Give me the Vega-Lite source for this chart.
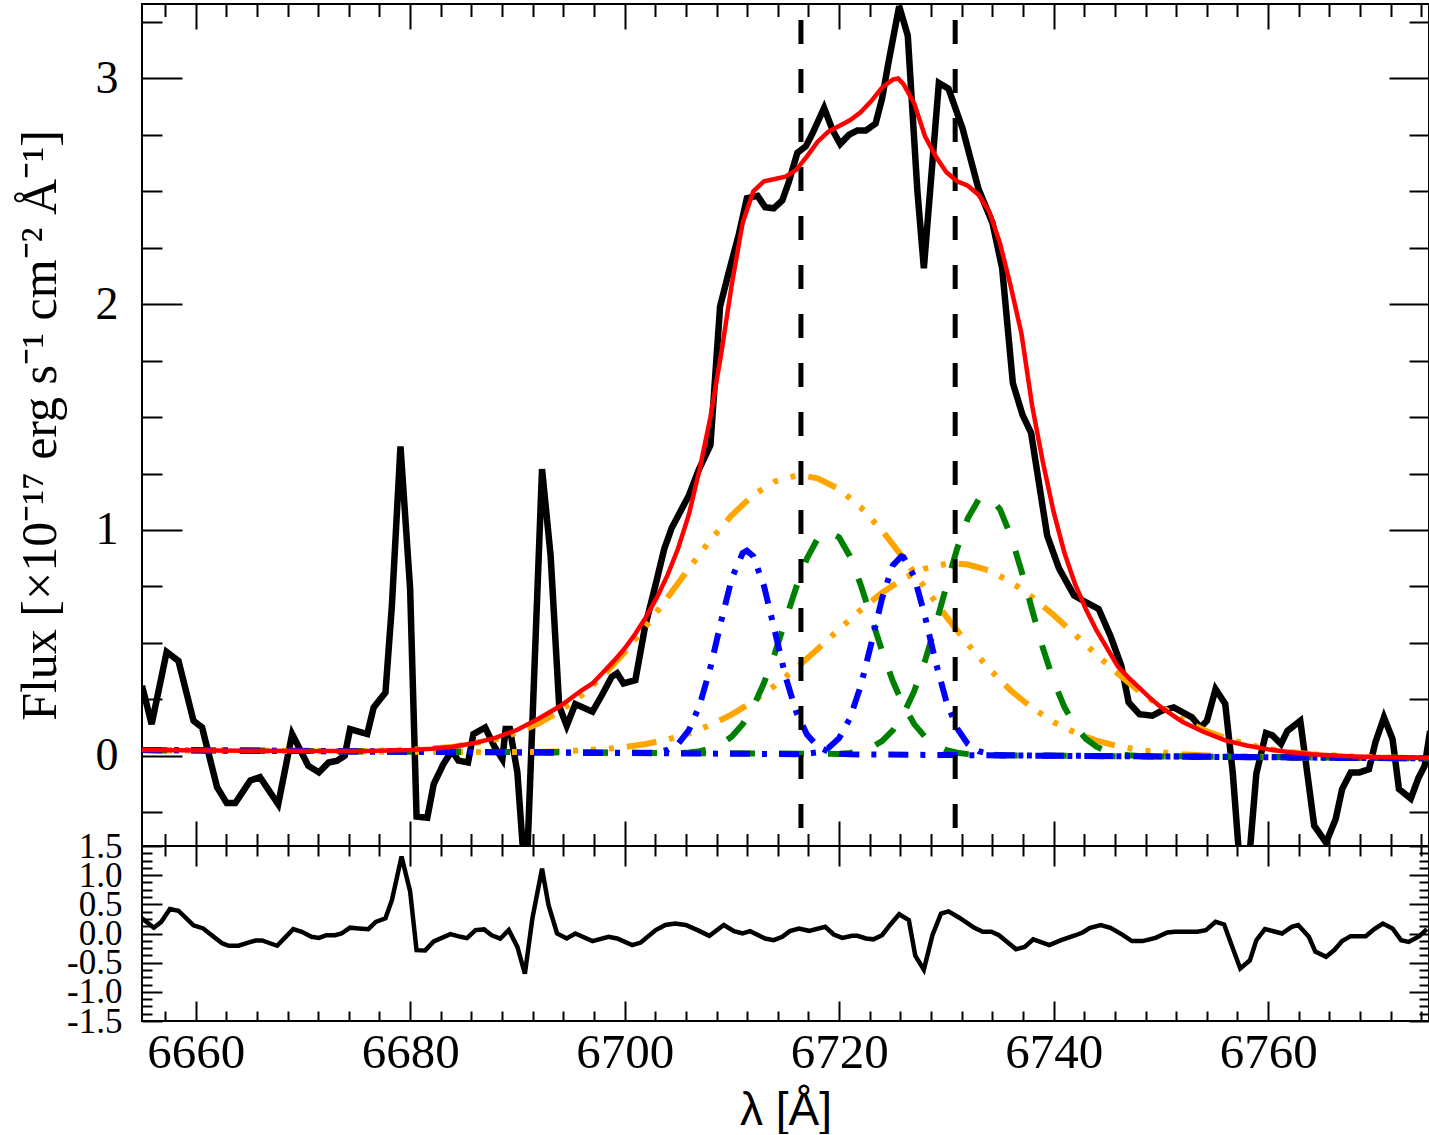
{
  "$schema": "https://vega.github.io/schema/vega-lite/v6.json",
  "background": "white",
  "padding": {"left": 14, "top": 2, "right": 2, "bottom": 0},
  "bounds": "flush",
  "config": {
    "view": {"stroke": "black", "strokeWidth": 2},
    "axis": {"labelColor": "black", "titleColor": "black", "labelOverlap": false, "labelFlush": false, "labelBound": false, "grid": false, "domain": false}
  },
  "datasets": {
    "spec": [
      {"w": 6655.0, "f": 0.31}, {"w": 6655.9, "f": 0.14}, {"w": 6657.3, "f": 0.46}, {"w": 6658.4, "f": 0.42},
      {"w": 6659.8, "f": 0.155}, {"w": 6660.6, "f": 0.125}, {"w": 6662.0, "f": -0.14}, {"w": 6662.9, "f": -0.21},
      {"w": 6663.7, "f": -0.21}, {"w": 6665.1, "f": -0.11}, {"w": 6666.0, "f": -0.095}, {"w": 6667.7, "f": -0.215},
      {"w": 6669.0, "f": 0.096}, {"w": 6670.5, "f": -0.044}, {"w": 6671.5, "f": -0.074}, {"w": 6672.4, "f": -0.03},
      {"w": 6673.2, "f": -0.022}, {"w": 6673.9, "f": 0.0}, {"w": 6674.4, "f": 0.118}, {"w": 6676.0, "f": 0.096},
      {"w": 6676.6, "f": 0.214}, {"w": 6677.7, "f": 0.28}, {"w": 6678.3, "f": 0.665}, {"w": 6679.1, "f": 1.37},
      {"w": 6680.0, "f": 0.74}, {"w": 6680.6, "f": -0.27}, {"w": 6681.6, "f": -0.275}, {"w": 6682.2, "f": -0.126},
      {"w": 6683.1, "f": -0.037}, {"w": 6683.9, "f": 0.022}, {"w": 6684.5, "f": -0.022}, {"w": 6685.4, "f": -0.03},
      {"w": 6685.9, "f": 0.096}, {"w": 6687.0, "f": 0.125}, {"w": 6687.9, "f": 0.037}, {"w": 6688.6, "f": -0.015},
      {"w": 6688.9, "f": 0.118}, {"w": 6689.3, "f": 0.118}, {"w": 6690.0, "f": -0.074}, {"w": 6690.8, "f": -0.6},
      {"w": 6692.3, "f": 1.27}, {"w": 6693.1, "f": 0.886}, {"w": 6693.9, "f": 0.22}, {"w": 6694.6, "f": 0.133},
      {"w": 6695.4, "f": 0.229}, {"w": 6697.0, "f": 0.195}, {"w": 6697.9, "f": 0.27}, {"w": 6698.8, "f": 0.35},
      {"w": 6699.3, "f": 0.365}, {"w": 6699.9, "f": 0.32}, {"w": 6701.0, "f": 0.335}, {"w": 6701.9, "f": 0.57},
      {"w": 6702.9, "f": 0.76}, {"w": 6703.7, "f": 0.917}, {"w": 6704.4, "f": 1.01}, {"w": 6706.0, "f": 1.154},
      {"w": 6706.9, "f": 1.265}, {"w": 6708.0, "f": 1.376}, {"w": 6708.9, "f": 1.99}, {"w": 6709.7, "f": 2.14},
      {"w": 6710.65, "f": 2.31}, {"w": 6711.4, "f": 2.47}, {"w": 6712.4, "f": 2.48}, {"w": 6713.1, "f": 2.43},
      {"w": 6713.9, "f": 2.425}, {"w": 6714.7, "f": 2.46}, {"w": 6715.3, "f": 2.54}, {"w": 6716.1, "f": 2.67},
      {"w": 6716.9, "f": 2.7}, {"w": 6717.5, "f": 2.755}, {"w": 6718.6, "f": 2.87}, {"w": 6719.4, "f": 2.77},
      {"w": 6720.1, "f": 2.71}, {"w": 6720.9, "f": 2.75}, {"w": 6721.7, "f": 2.77}, {"w": 6722.5, "f": 2.77},
      {"w": 6723.4, "f": 2.8}, {"w": 6724.0, "f": 2.91}, {"w": 6724.6, "f": 3.07}, {"w": 6725.6, "f": 3.32},
      {"w": 6726.4, "f": 3.19}, {"w": 6727.3, "f": 2.5}, {"w": 6727.9, "f": 2.16}, {"w": 6729.3, "f": 2.98},
      {"w": 6730.2, "f": 2.955}, {"w": 6731.5, "f": 2.78}, {"w": 6733.0, "f": 2.51}, {"w": 6734.3, "f": 2.36},
      {"w": 6735.2, "f": 2.16}, {"w": 6736.2, "f": 1.65}, {"w": 6737.1, "f": 1.51}, {"w": 6737.9, "f": 1.43},
      {"w": 6739.4, "f": 0.975}, {"w": 6740.5, "f": 0.83}, {"w": 6741.9, "f": 0.71}, {"w": 6743.0, "f": 0.68},
      {"w": 6744.2, "f": 0.65}, {"w": 6745.3, "f": 0.53}, {"w": 6746.3, "f": 0.4}, {"w": 6747.0, "f": 0.236},
      {"w": 6748.0, "f": 0.184}, {"w": 6749.2, "f": 0.177}, {"w": 6750.1, "f": 0.2}, {"w": 6751.2, "f": 0.214},
      {"w": 6752.9, "f": 0.17}, {"w": 6753.7, "f": 0.125}, {"w": 6754.3, "f": 0.155}, {"w": 6755.1, "f": 0.295},
      {"w": 6756.0, "f": 0.23}, {"w": 6756.7, "f": -0.074}, {"w": 6757.5, "f": -0.57}, {"w": 6758.3, "f": -0.42},
      {"w": 6758.9, "f": -0.08}, {"w": 6759.8, "f": 0.1}, {"w": 6760.4, "f": 0.09}, {"w": 6761.2, "f": 0.052},
      {"w": 6761.8, "f": 0.11}, {"w": 6763.0, "f": 0.155}, {"w": 6764.3, "f": -0.31}, {"w": 6765.4, "f": -0.385},
      {"w": 6766.3, "f": -0.28}, {"w": 6766.9, "f": -0.148}, {"w": 6767.7, "f": -0.074}, {"w": 6768.5, "f": -0.074},
      {"w": 6769.4, "f": -0.06}, {"w": 6770.0, "f": 0.059}, {"w": 6770.8, "f": 0.17}, {"w": 6771.6, "f": 0.074},
      {"w": 6772.2, "f": -0.148}, {"w": 6773.3, "f": -0.19}, {"w": 6774.0, "f": -0.1}, {"w": 6774.6, "f": -0.044},
      {"w": 6775.1, "f": 0.11}
    ],
    "fit": [
      {"w": 6655, "f": 0.025}, {"w": 6665, "f": 0.022}, {"w": 6670, "f": 0.021}, {"w": 6676, "f": 0.021},
      {"w": 6680, "f": 0.025}, {"w": 6682, "f": 0.031}, {"w": 6684, "f": 0.04}, {"w": 6686, "f": 0.056},
      {"w": 6688, "f": 0.08}, {"w": 6690, "f": 0.115}, {"w": 6692, "f": 0.165}, {"w": 6694, "f": 0.22},
      {"w": 6696, "f": 0.29}, {"w": 6697, "f": 0.32}, {"w": 6698, "f": 0.37}, {"w": 6699, "f": 0.42},
      {"w": 6700, "f": 0.475}, {"w": 6701, "f": 0.54}, {"w": 6702, "f": 0.615}, {"w": 6703, "f": 0.7},
      {"w": 6704, "f": 0.8}, {"w": 6705, "f": 0.92}, {"w": 6706, "f": 1.07}, {"w": 6707, "f": 1.27},
      {"w": 6708, "f": 1.5}, {"w": 6709, "f": 1.78}, {"w": 6710, "f": 2.09}, {"w": 6711, "f": 2.36},
      {"w": 6712, "f": 2.5}, {"w": 6713, "f": 2.545}, {"w": 6714, "f": 2.555}, {"w": 6715, "f": 2.565},
      {"w": 6716, "f": 2.595}, {"w": 6717, "f": 2.655}, {"w": 6718, "f": 2.72}, {"w": 6719, "f": 2.765},
      {"w": 6720, "f": 2.79}, {"w": 6721, "f": 2.815}, {"w": 6722, "f": 2.85}, {"w": 6723, "f": 2.9},
      {"w": 6724, "f": 2.96}, {"w": 6725, "f": 2.995}, {"w": 6725.5, "f": 3.0}, {"w": 6726, "f": 2.975},
      {"w": 6727, "f": 2.89}, {"w": 6728, "f": 2.745}, {"w": 6729, "f": 2.655}, {"w": 6730, "f": 2.585},
      {"w": 6731, "f": 2.545}, {"w": 6732, "f": 2.525}, {"w": 6733, "f": 2.485}, {"w": 6734, "f": 2.41},
      {"w": 6735, "f": 2.27}, {"w": 6736, "f": 2.08}, {"w": 6737, "f": 1.87}, {"w": 6738, "f": 1.55},
      {"w": 6739, "f": 1.3}, {"w": 6740, "f": 1.08}, {"w": 6741, "f": 0.9}, {"w": 6742, "f": 0.76},
      {"w": 6743, "f": 0.65}, {"w": 6744, "f": 0.555}, {"w": 6745, "f": 0.475}, {"w": 6746, "f": 0.395},
      {"w": 6747, "f": 0.345}, {"w": 6748, "f": 0.3}, {"w": 6749, "f": 0.255}, {"w": 6750, "f": 0.215},
      {"w": 6752, "f": 0.15}, {"w": 6754, "f": 0.105}, {"w": 6756, "f": 0.068}, {"w": 6758, "f": 0.045},
      {"w": 6760, "f": 0.028}, {"w": 6762, "f": 0.015}, {"w": 6764, "f": 0.006}, {"w": 6768, "f": -0.003},
      {"w": 6772, "f": -0.008}, {"w": 6775, "f": -0.01}
    ],
    "comp": [
      {"c": "O1", "w": 6655, "f": 0.025}, {"c": "O1", "w": 6670, "f": 0.021}, {"c": "O1", "w": 6676, "f": 0.021},
      {"c": "O1", "w": 6680, "f": 0.026}, {"c": "O1", "w": 6684, "f": 0.039}, {"c": "O1", "w": 6688, "f": 0.073},
      {"c": "O1", "w": 6690, "f": 0.103}, {"c": "O1", "w": 6692, "f": 0.144}, {"c": "O1", "w": 6694, "f": 0.198},
      {"c": "O1", "w": 6696, "f": 0.268}, {"c": "O1", "w": 6698, "f": 0.355}, {"c": "O1", "w": 6700, "f": 0.458},
      {"c": "O1", "w": 6702, "f": 0.575}, {"c": "O1", "w": 6704, "f": 0.7}, {"c": "O1", "w": 6706, "f": 0.83},
      {"c": "O1", "w": 6708, "f": 0.955}, {"c": "O1", "w": 6710, "f": 1.066}, {"c": "O1", "w": 6712, "f": 1.155},
      {"c": "O1", "w": 6714, "f": 1.215}, {"c": "O1", "w": 6716, "f": 1.241}, {"c": "O1", "w": 6716.4, "f": 1.242},
      {"c": "O1", "w": 6718, "f": 1.229}, {"c": "O1", "w": 6720, "f": 1.181}, {"c": "O1", "w": 6722, "f": 1.101},
      {"c": "O1", "w": 6724, "f": 0.997}, {"c": "O1", "w": 6726, "f": 0.875}, {"c": "O1", "w": 6728, "f": 0.745},
      {"c": "O1", "w": 6730, "f": 0.616}, {"c": "O1", "w": 6732, "f": 0.494}, {"c": "O1", "w": 6734, "f": 0.384},
      {"c": "O1", "w": 6736, "f": 0.289}, {"c": "O1", "w": 6738, "f": 0.211}, {"c": "O1", "w": 6740, "f": 0.149},
      {"c": "O1", "w": 6742, "f": 0.102}, {"c": "O1", "w": 6744, "f": 0.067}, {"c": "O1", "w": 6746, "f": 0.042},
      {"c": "O1", "w": 6748, "f": 0.025}, {"c": "O1", "w": 6752, "f": 0.006}, {"c": "O1", "w": 6756, "f": -0.003},
      {"c": "O1", "w": 6762, "f": -0.007}, {"c": "O1", "w": 6775, "f": -0.012},
      {"c": "O2", "w": 6655, "f": 0.025}, {"c": "O2", "w": 6684, "f": 0.016}, {"c": "O2", "w": 6690, "f": 0.016},
      {"c": "O2", "w": 6694, "f": 0.019}, {"c": "O2", "w": 6698, "f": 0.029}, {"c": "O2", "w": 6700, "f": 0.038},
      {"c": "O2", "w": 6702, "f": 0.052}, {"c": "O2", "w": 6704, "f": 0.072}, {"c": "O2", "w": 6706, "f": 0.099},
      {"c": "O2", "w": 6708, "f": 0.136}, {"c": "O2", "w": 6710, "f": 0.183}, {"c": "O2", "w": 6712, "f": 0.241},
      {"c": "O2", "w": 6714, "f": 0.31}, {"c": "O2", "w": 6716, "f": 0.388}, {"c": "O2", "w": 6718, "f": 0.473},
      {"c": "O2", "w": 6720, "f": 0.56}, {"c": "O2", "w": 6722, "f": 0.645}, {"c": "O2", "w": 6724, "f": 0.722},
      {"c": "O2", "w": 6726, "f": 0.785}, {"c": "O2", "w": 6728, "f": 0.829}, {"c": "O2", "w": 6730, "f": 0.85},
      {"c": "O2", "w": 6730.8, "f": 0.852}, {"c": "O2", "w": 6732, "f": 0.847}, {"c": "O2", "w": 6734, "f": 0.82},
      {"c": "O2", "w": 6736, "f": 0.77}, {"c": "O2", "w": 6738, "f": 0.703}, {"c": "O2", "w": 6740, "f": 0.623},
      {"c": "O2", "w": 6742, "f": 0.536}, {"c": "O2", "w": 6744, "f": 0.448}, {"c": "O2", "w": 6746, "f": 0.363},
      {"c": "O2", "w": 6748, "f": 0.285}, {"c": "O2", "w": 6750, "f": 0.217}, {"c": "O2", "w": 6752, "f": 0.16},
      {"c": "O2", "w": 6754, "f": 0.114}, {"c": "O2", "w": 6756, "f": 0.078}, {"c": "O2", "w": 6758, "f": 0.051},
      {"c": "O2", "w": 6760, "f": 0.031}, {"c": "O2", "w": 6762, "f": 0.017}, {"c": "O2", "w": 6764, "f": 0.007},
      {"c": "O2", "w": 6768, "f": -0.004}, {"c": "O2", "w": 6772, "f": -0.009}, {"c": "O2", "w": 6775, "f": -0.011},
      {"c": "G1", "w": 6655, "f": 0.025}, {"c": "G1", "w": 6705, "f": 0.012}, {"c": "G1", "w": 6706, "f": 0.014},
      {"c": "G1", "w": 6707, "f": 0.02}, {"c": "G1", "w": 6708, "f": 0.031}, {"c": "G1", "w": 6709, "f": 0.051},
      {"c": "G1", "w": 6710, "f": 0.085}, {"c": "G1", "w": 6711, "f": 0.139}, {"c": "G1", "w": 6712, "f": 0.217},
      {"c": "G1", "w": 6713, "f": 0.323}, {"c": "G1", "w": 6714, "f": 0.453}, {"c": "G1", "w": 6715, "f": 0.6},
      {"c": "G1", "w": 6716, "f": 0.746}, {"c": "G1", "w": 6717, "f": 0.874}, {"c": "G1", "w": 6718, "f": 0.962},
      {"c": "G1", "w": 6719, "f": 0.995}, {"c": "G1", "w": 6720, "f": 0.967}, {"c": "G1", "w": 6721, "f": 0.884},
      {"c": "G1", "w": 6722, "f": 0.759}, {"c": "G1", "w": 6723, "f": 0.612}, {"c": "G1", "w": 6724, "f": 0.464},
      {"c": "G1", "w": 6725, "f": 0.331}, {"c": "G1", "w": 6726, "f": 0.222}, {"c": "G1", "w": 6727, "f": 0.14},
      {"c": "G1", "w": 6728, "f": 0.084}, {"c": "G1", "w": 6729, "f": 0.047}, {"c": "G1", "w": 6730, "f": 0.025},
      {"c": "G1", "w": 6731, "f": 0.013}, {"c": "G1", "w": 6732, "f": 0.007}, {"c": "G1", "w": 6733, "f": 0.003},
      {"c": "G1", "w": 6734, "f": 0.002}, {"c": "G1", "w": 6775, "f": -0.012},
      {"c": "G2", "w": 6655, "f": 0.025}, {"c": "G2", "w": 6720, "f": 0.008}, {"c": "G2", "w": 6721, "f": 0.012},
      {"c": "G2", "w": 6722, "f": 0.02}, {"c": "G2", "w": 6723, "f": 0.036}, {"c": "G2", "w": 6724, "f": 0.065},
      {"c": "G2", "w": 6725, "f": 0.112}, {"c": "G2", "w": 6726, "f": 0.184}, {"c": "G2", "w": 6727, "f": 0.286},
      {"c": "G2", "w": 6728, "f": 0.419}, {"c": "G2", "w": 6729, "f": 0.578}, {"c": "G2", "w": 6730, "f": 0.752},
      {"c": "G2", "w": 6731, "f": 0.917}, {"c": "G2", "w": 6732, "f": 1.052}, {"c": "G2", "w": 6733, "f": 1.134},
      {"c": "G2", "w": 6733.7, "f": 1.151}, {"c": "G2", "w": 6734, "f": 1.148}, {"c": "G2", "w": 6735, "f": 1.092},
      {"c": "G2", "w": 6736, "f": 0.975}, {"c": "G2", "w": 6737, "f": 0.819}, {"c": "G2", "w": 6738, "f": 0.645},
      {"c": "G2", "w": 6739, "f": 0.477}, {"c": "G2", "w": 6740, "f": 0.331}, {"c": "G2", "w": 6741, "f": 0.216},
      {"c": "G2", "w": 6742, "f": 0.132}, {"c": "G2", "w": 6743, "f": 0.075}, {"c": "G2", "w": 6744, "f": 0.04},
      {"c": "G2", "w": 6745, "f": 0.019}, {"c": "G2", "w": 6746, "f": 0.007}, {"c": "G2", "w": 6747, "f": 0.002},
      {"c": "G2", "w": 6748, "f": -0.001}, {"c": "G2", "w": 6775, "f": -0.012},
      {"c": "B1", "w": 6655, "f": 0.025}, {"c": "B1", "w": 6702, "f": 0.012}, {"c": "B1", "w": 6703, "f": 0.015},
      {"c": "B1", "w": 6704, "f": 0.026}, {"c": "B1", "w": 6705, "f": 0.053}, {"c": "B1", "w": 6706, "f": 0.114},
      {"c": "B1", "w": 6707, "f": 0.224}, {"c": "B1", "w": 6708, "f": 0.391}, {"c": "B1", "w": 6709, "f": 0.596},
      {"c": "B1", "w": 6710, "f": 0.787}, {"c": "B1", "w": 6711, "f": 0.897}, {"c": "B1", "w": 6711.4, "f": 0.908},
      {"c": "B1", "w": 6712, "f": 0.884}, {"c": "B1", "w": 6713, "f": 0.751}, {"c": "B1", "w": 6714, "f": 0.553},
      {"c": "B1", "w": 6715, "f": 0.351}, {"c": "B1", "w": 6716, "f": 0.194}, {"c": "B1", "w": 6717, "f": 0.094},
      {"c": "B1", "w": 6718, "f": 0.042}, {"c": "B1", "w": 6719, "f": 0.018}, {"c": "B1", "w": 6720, "f": 0.009},
      {"c": "B1", "w": 6721, "f": 0.006}, {"c": "B1", "w": 6775, "f": -0.012},
      {"c": "B2", "w": 6655, "f": 0.025}, {"c": "B2", "w": 6716, "f": 0.007}, {"c": "B2", "w": 6717, "f": 0.009},
      {"c": "B2", "w": 6718, "f": 0.015}, {"c": "B2", "w": 6719, "f": 0.034}, {"c": "B2", "w": 6720, "f": 0.078},
      {"c": "B2", "w": 6721, "f": 0.165}, {"c": "B2", "w": 6722, "f": 0.307}, {"c": "B2", "w": 6723, "f": 0.497},
      {"c": "B2", "w": 6724, "f": 0.696}, {"c": "B2", "w": 6725, "f": 0.843}, {"c": "B2", "w": 6725.8, "f": 0.883},
      {"c": "B2", "w": 6726, "f": 0.88}, {"c": "B2", "w": 6727, "f": 0.794}, {"c": "B2", "w": 6728, "f": 0.618},
      {"c": "B2", "w": 6729, "f": 0.415}, {"c": "B2", "w": 6730, "f": 0.24}, {"c": "B2", "w": 6731, "f": 0.121},
      {"c": "B2", "w": 6732, "f": 0.052}, {"c": "B2", "w": 6733, "f": 0.02}, {"c": "B2", "w": 6734, "f": 0.007},
      {"c": "B2", "w": 6735, "f": 0.002}, {"c": "B2", "w": 6775, "f": -0.012}
    ],
    "lines": [{"w": 6716.44}, {"w": 6730.82}],
    "resid": [
      {"w": 6655.0, "r": 0.26}, {"w": 6656.1, "r": 0.1}, {"w": 6656.8, "r": 0.2}, {"w": 6657.6, "r": 0.42},
      {"w": 6658.4, "r": 0.39}, {"w": 6659.8, "r": 0.14}, {"w": 6660.7, "r": 0.087}, {"w": 6661.5, "r": -0.03},
      {"w": 6662.5, "r": -0.17}, {"w": 6663.1, "r": -0.21}, {"w": 6664.0, "r": -0.21}, {"w": 6664.9, "r": -0.155},
      {"w": 6665.6, "r": -0.12}, {"w": 6666.2, "r": -0.12}, {"w": 6667.6, "r": -0.21}, {"w": 6669.1, "r": 0.075},
      {"w": 6669.9, "r": 0.03}, {"w": 6670.8, "r": -0.057}, {"w": 6671.5, "r": -0.075}, {"w": 6672.2, "r": -0.03},
      {"w": 6673.0, "r": -0.03}, {"w": 6673.6, "r": 0.0}, {"w": 6674.4, "r": 0.1}, {"w": 6675.2, "r": 0.087},
      {"w": 6676.1, "r": 0.075}, {"w": 6676.8, "r": 0.2}, {"w": 6677.7, "r": 0.26}, {"w": 6678.3, "r": 0.57},
      {"w": 6679.2, "r": 1.32}, {"w": 6680.0, "r": 0.72}, {"w": 6680.6, "r": -0.285}, {"w": 6681.4, "r": -0.29},
      {"w": 6682.2, "r": -0.135}, {"w": 6683.75, "r": -0.01}, {"w": 6684.7, "r": -0.057}, {"w": 6685.3, "r": -0.08},
      {"w": 6686.1, "r": 0.058}, {"w": 6686.9, "r": 0.07}, {"w": 6687.6, "r": -0.03}, {"w": 6688.4, "r": -0.086},
      {"w": 6689.2, "r": 0.058}, {"w": 6690.0, "r": -0.23}, {"w": 6690.7, "r": -0.69}, {"w": 6691.4, "r": 0.26},
      {"w": 6692.3, "r": 1.11}, {"w": 6692.9, "r": 0.49}, {"w": 6693.7, "r": 0.0}, {"w": 6694.6, "r": -0.086},
      {"w": 6695.4, "r": 0.0}, {"w": 6697.0, "r": -0.13}, {"w": 6698.5, "r": -0.057}, {"w": 6699.3, "r": -0.086},
      {"w": 6700.7, "r": -0.2}, {"w": 6701.5, "r": -0.155}, {"w": 6702.9, "r": 0.058}, {"w": 6703.8, "r": 0.145},
      {"w": 6704.7, "r": 0.17}, {"w": 6705.7, "r": 0.145}, {"w": 6706.8, "r": 0.058}, {"w": 6707.9, "r": -0.04},
      {"w": 6709.25, "r": 0.145}, {"w": 6710.2, "r": 0.04}, {"w": 6711.0, "r": 0.0}, {"w": 6711.7, "r": 0.04},
      {"w": 6713.1, "r": -0.086}, {"w": 6713.9, "r": -0.115}, {"w": 6714.7, "r": -0.057}, {"w": 6715.4, "r": 0.04},
      {"w": 6716.25, "r": 0.086}, {"w": 6717.2, "r": 0.046}, {"w": 6718.7, "r": 0.115}, {"w": 6719.5, "r": -0.017},
      {"w": 6720.3, "r": -0.075}, {"w": 6721.2, "r": -0.04}, {"w": 6721.7, "r": -0.04}, {"w": 6722.5, "r": -0.086},
      {"w": 6723.2, "r": -0.1}, {"w": 6724.0, "r": -0.03}, {"w": 6724.8, "r": 0.16}, {"w": 6725.6, "r": 0.33},
      {"w": 6726.5, "r": 0.23}, {"w": 6727.1, "r": -0.38}, {"w": 6727.9, "r": -0.62}, {"w": 6728.7, "r": -0.03},
      {"w": 6729.5, "r": 0.34}, {"w": 6730.2, "r": 0.38}, {"w": 6731.2, "r": 0.27}, {"w": 6732.6, "r": 0.096},
      {"w": 6733.4, "r": 0.03}, {"w": 6734.2, "r": 0.03}, {"w": 6734.9, "r": -0.03}, {"w": 6736.5, "r": -0.27},
      {"w": 6737.3, "r": -0.23}, {"w": 6738.1, "r": -0.1}, {"w": 6739.6, "r": -0.2}, {"w": 6740.7, "r": -0.115},
      {"w": 6742.05, "r": -0.03}, {"w": 6742.7, "r": 0.017}, {"w": 6743.4, "r": 0.096}, {"w": 6744.4, "r": 0.145},
      {"w": 6745.3, "r": 0.096}, {"w": 6746.4, "r": -0.02}, {"w": 6747.3, "r": -0.13}, {"w": 6748.3, "r": -0.13},
      {"w": 6749.5, "r": -0.075}, {"w": 6750.6, "r": 0.017}, {"w": 6751.3, "r": 0.03}, {"w": 6753.4, "r": 0.03},
      {"w": 6754.2, "r": 0.058}, {"w": 6755.1, "r": 0.2}, {"w": 6755.9, "r": 0.155}, {"w": 6756.6, "r": -0.2},
      {"w": 6757.4, "r": -0.6}, {"w": 6758.3, "r": -0.46}, {"w": 6758.9, "r": -0.115}, {"w": 6759.7, "r": 0.075},
      {"w": 6761.3, "r": 0.0}, {"w": 6762.2, "r": 0.115}, {"w": 6762.8, "r": 0.145}, {"w": 6763.8, "r": -0.057},
      {"w": 6764.4, "r": -0.31}, {"w": 6765.4, "r": -0.4}, {"w": 6766.2, "r": -0.28}, {"w": 6766.9, "r": -0.13},
      {"w": 6767.7, "r": -0.045}, {"w": 6769.1, "r": -0.045}, {"w": 6769.9, "r": 0.075}, {"w": 6770.7, "r": 0.17},
      {"w": 6771.6, "r": 0.086}, {"w": 6772.4, "r": -0.115}, {"w": 6773.1, "r": -0.145}, {"w": 6774.1, "r": -0.045},
      {"w": 6774.8, "r": 0.075}
    ]
  },
  "vconcat": [
    {
      "width": 1287,
      "height": 842,
      "layer": [
        {
          "data": {"name": "spec"},
          "mark": {"type": "line", "color": "black", "strokeWidth": 6.5, "clip": true},
          "encoding": {
            "x": {"field": "w", "type": "quantitative", "scale": {"domain": [6655, 6775], "nice": false, "zero": false},
              "axis": {"orient": "bottom", "labels": false, "title": null, "tickColor": "black", "tickWidth": 2, "minExtent": 0, "maxExtent": 0,
                "values": [6657.142857, 6660, 6662.857143, 6665.714286, 6668.571429, 6671.428571, 6674.285714, 6677.142857, 6680, 6682.857143, 6685.714286, 6688.571429, 6691.428571, 6694.285714, 6697.142857, 6700, 6702.857143, 6705.714286, 6708.571429, 6711.428571, 6714.285714, 6717.142857, 6720, 6722.857143, 6725.714286, 6728.571429, 6731.428571, 6734.285714, 6737.142857, 6740, 6742.857143, 6745.714286, 6748.571429, 6751.428571, 6754.285714, 6757.142857, 6760, 6762.857143, 6765.714286, 6768.571429, 6771.428571, 6774.285714],
                "tickSize": {"condition": {"test": "datum.value % 20 === 0", "value": -25}, "value": -12.5}}},
            "y": {"field": "f", "type": "quantitative", "scale": {"domain": [-0.4, 3.33], "nice": false, "zero": false},
              "axis": {"orient": "left", "values": [0, 1, 2, 3], "format": "d", "ticks": false,
                "labelFont": "Liberation Serif", "labelFontSize": 46, "labelPadding": 24,
                "title": "Flux [×10⁻¹⁷ erg s⁻¹ cm⁻² Å⁻¹]", "titleFont": "Liberation Serif", "titleFontSize": 50,
                "titleFontWeight": "normal", "titlePadding": 30}}
          }
        },
        {
          "data": {"name": "comp"},
          "transform": [{"filter": {"field": "c", "oneOf": ["O1", "O2"]}}],
          "mark": {"type": "line", "color": "#FFA500", "strokeWidth": 6, "strokeDash": [30, 13, 5, 13, 5, 13, 5, 13], "clip": true},
          "encoding": {
            "x": {"field": "w", "type": "quantitative",
              "axis": {"orient": "top", "labels": false, "title": null, "tickColor": "black", "tickWidth": 2, "minExtent": 0, "maxExtent": 0,
                "values": [6657.142857, 6660, 6662.857143, 6665.714286, 6668.571429, 6671.428571, 6674.285714, 6677.142857, 6680, 6682.857143, 6685.714286, 6688.571429, 6691.428571, 6694.285714, 6697.142857, 6700, 6702.857143, 6705.714286, 6708.571429, 6711.428571, 6714.285714, 6717.142857, 6720, 6722.857143, 6725.714286, 6728.571429, 6731.428571, 6734.285714, 6737.142857, 6740, 6742.857143, 6745.714286, 6748.571429, 6751.428571, 6754.285714, 6757.142857, 6760, 6762.857143, 6765.714286, 6768.571429, 6771.428571, 6774.285714],
                "tickSize": {"condition": {"test": "datum.value % 20 === 0", "value": -25}, "value": -12.5}}},
            "y": {"field": "f", "type": "quantitative",
              "axis": {"orient": "left", "labels": false, "title": null, "tickColor": "black", "tickWidth": 2, "minExtent": 0, "maxExtent": 0,
                "values": [-0.25, 0, 0.25, 0.5, 0.75, 1, 1.25, 1.5, 1.75, 2, 2.25, 2.5, 2.75, 3, 3.25],
                "tickSize": {"condition": {"test": "datum.value % 1 === 0", "value": -40}, "value": -20}}},
            "detail": {"field": "c"}
          }
        },
        {
          "data": {"name": "comp"},
          "transform": [{"filter": {"field": "c", "oneOf": ["G1", "G2"]}}],
          "mark": {"type": "line", "color": "#008000", "strokeWidth": 6, "strokeDash": [25, 24], "clip": true},
          "encoding": {
            "x": {"field": "w", "type": "quantitative", "axis": null},
            "y": {"field": "f", "type": "quantitative",
              "axis": {"orient": "right", "labels": false, "title": null, "tickColor": "black", "tickWidth": 2, "minExtent": 0, "maxExtent": 0,
                "values": [-0.25, 0, 0.25, 0.5, 0.75, 1, 1.25, 1.5, 1.75, 2, 2.25, 2.5, 2.75, 3, 3.25],
                "tickSize": {"condition": {"test": "datum.value % 1 === 0", "value": -40}, "value": -20}}},
            "detail": {"field": "c"}
          }
        },
        {
          "data": {"name": "comp"},
          "transform": [{"filter": {"field": "c", "oneOf": ["B1", "B2"]}}],
          "mark": {"type": "line", "color": "#0000FF", "strokeWidth": 6, "strokeDash": [20, 12, 5, 12], "clip": true},
          "encoding": {
            "x": {"field": "w", "type": "quantitative", "axis": null},
            "y": {"field": "f", "type": "quantitative", "axis": null},
            "detail": {"field": "c"}
          }
        },
        {
          "data": {"name": "lines"},
          "mark": {"type": "rule", "color": "black", "strokeWidth": 5, "strokeDash": [24, 25]},
          "encoding": {
            "x": {"field": "w", "type": "quantitative", "axis": null},
            "y": {"datum": -0.32, "axis": null},
            "y2": {"datum": 3.3}
          }
        },
        {
          "data": {"name": "fit"},
          "mark": {"type": "line", "color": "#FF0000", "strokeWidth": 4.5, "clip": true},
          "encoding": {
            "x": {"field": "w", "type": "quantitative", "axis": null},
            "y": {"field": "f", "type": "quantitative", "axis": null}
          }
        }
      ],
      "resolve": {"axis": {"x": "independent", "y": "independent"}}
    },
    {
      "width": 1287,
      "height": 175,
      "layer": [
        {
          "data": {"name": "resid"},
          "mark": {"type": "line", "color": "black", "strokeWidth": 4.5, "clip": true},
          "encoding": {
            "x": {"field": "w", "type": "quantitative", "scale": {"domain": [6655, 6775], "nice": false, "zero": false},
              "axis": {"orient": "bottom", "values": [6660, 6680, 6700, 6720, 6740, 6760], "format": "d", "ticks": false,
                "labelFont": "Liberation Serif", "labelFontSize": 49, "labelPadding": 7,
                "title": "λ [Å]", "titleFont": "Liberation Sans", "titleFontSize": 46, "titleFontWeight": "normal", "titlePadding": 11}},
            "y": {"field": "r", "type": "quantitative", "scale": {"domain": [-1.5, 1.5], "nice": false, "zero": false},
              "axis": {"orient": "left", "values": [-1.5, -1, -0.5, 0, 0.5, 1, 1.5], "format": ".1f",
                "labelExpr": "replace(datum.label, '−', '-')", "ticks": false,
                "labelFont": "Liberation Serif", "labelFontSize": 35, "labelPadding": 20, "title": null}}
          }
        },
        {
          "data": {"name": "resid"},
          "mark": {"type": "line", "color": "black", "strokeOpacity": 0},
          "encoding": {
            "x": {"field": "w", "type": "quantitative",
              "axis": {"orient": "bottom", "labels": false, "title": null, "tickColor": "black", "tickWidth": 2, "minExtent": 0, "maxExtent": 0,
                "values": [6657.142857, 6660, 6662.857143, 6665.714286, 6668.571429, 6671.428571, 6674.285714, 6677.142857, 6680, 6682.857143, 6685.714286, 6688.571429, 6691.428571, 6694.285714, 6697.142857, 6700, 6702.857143, 6705.714286, 6708.571429, 6711.428571, 6714.285714, 6717.142857, 6720, 6722.857143, 6725.714286, 6728.571429, 6731.428571, 6734.285714, 6737.142857, 6740, 6742.857143, 6745.714286, 6748.571429, 6751.428571, 6754.285714, 6757.142857, 6760, 6762.857143, 6765.714286, 6768.571429, 6771.428571, 6774.285714],
                "tickSize": {"condition": {"test": "datum.value % 20 === 0", "value": -20}, "value": -10}}},
            "y": {"field": "r", "type": "quantitative",
              "axis": {"orient": "left", "labels": false, "title": null, "tickColor": "black", "tickWidth": 2, "minExtent": 0, "maxExtent": 0,
                "values": [-1.5, -1.375, -1.25, -1.125, -1, -0.875, -0.75, -0.625, -0.5, -0.375, -0.25, -0.125, 0, 0.125, 0.25, 0.375, 0.5, 0.625, 0.75, 0.875, 1, 1.125, 1.25, 1.375, 1.5],
                "tickSize": {"condition": {"test": "datum.value % 0.5 === 0", "value": -20}, "value": -10}}}
          }
        },
        {
          "data": {"name": "resid"},
          "mark": {"type": "line", "color": "black", "strokeOpacity": 0},
          "encoding": {
            "x": {"field": "w", "type": "quantitative",
              "axis": {"orient": "top", "labels": false, "title": null, "tickColor": "black", "tickWidth": 2, "minExtent": 0, "maxExtent": 0,
                "values": [6657.142857, 6660, 6662.857143, 6665.714286, 6668.571429, 6671.428571, 6674.285714, 6677.142857, 6680, 6682.857143, 6685.714286, 6688.571429, 6691.428571, 6694.285714, 6697.142857, 6700, 6702.857143, 6705.714286, 6708.571429, 6711.428571, 6714.285714, 6717.142857, 6720, 6722.857143, 6725.714286, 6728.571429, 6731.428571, 6734.285714, 6737.142857, 6740, 6742.857143, 6745.714286, 6748.571429, 6751.428571, 6754.285714, 6757.142857, 6760, 6762.857143, 6765.714286, 6768.571429, 6771.428571, 6774.285714],
                "tickSize": {"condition": {"test": "datum.value % 20 === 0", "value": -20}, "value": -10}}},
            "y": {"field": "r", "type": "quantitative",
              "axis": {"orient": "right", "labels": false, "title": null, "tickColor": "black", "tickWidth": 2, "minExtent": 0, "maxExtent": 0,
                "values": [-1.5, -1.375, -1.25, -1.125, -1, -0.875, -0.75, -0.625, -0.5, -0.375, -0.25, -0.125, 0, 0.125, 0.25, 0.375, 0.5, 0.625, 0.75, 0.875, 1, 1.125, 1.25, 1.375, 1.5],
                "tickSize": {"condition": {"test": "datum.value % 0.5 === 0", "value": -20}, "value": -10}}}
          }
        }
      ],
      "resolve": {"axis": {"x": "independent", "y": "independent"}}
    }
  ],
  "spacing": 0
}
